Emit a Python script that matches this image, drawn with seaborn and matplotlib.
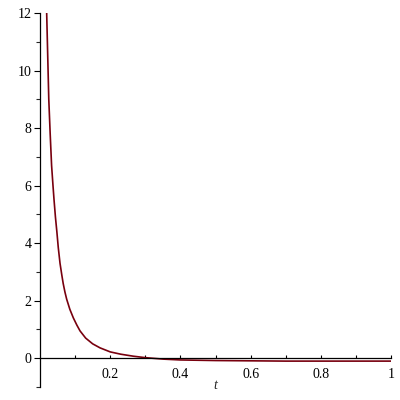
import pandas as pd
import matplotlib.pyplot as plt
import seaborn as sns
from matplotlib.ticker import MultipleLocator, FixedLocator

# values
t_vals = [0.016, 0.019, 0.022, 0.025, 0.029, 0.033, 0.037, 0.040, 0.044, 0.048,
          0.052, 0.057, 0.062, 0.066, 0.071, 0.076, 0.085, 0.095, 0.105, 0.114,
          0.130, 0.150, 0.171, 0.200, 0.230, 0.266, 0.300, 0.320, 0.350, 0.400,
          0.500, 0.600, 0.700, 0.800, 0.900, 1.000]
y_vals = [13.5, 12.0, 10.5, 9.0, 7.8, 6.7, 6.0, 5.5, 4.9, 4.4,
          3.85, 3.3, 2.9, 2.6, 2.3, 2.05, 1.7, 1.4, 1.15, 0.95,
          0.7, 0.5, 0.36, 0.22, 0.14, 0.07, 0.02, 0.0, -0.03, -0.06,
          -0.08, -0.09, -0.1, -0.1, -0.1, -0.1]
x_ticks = [0.2, 0.4, 0.6, 0.8, 1.0]
x_tick_labels = ["0.2", "0.4", "0.6", "0.8", "1"]
y_ticks = [0, 2, 4, 6, 8, 10, 12]

df = pd.DataFrame({"t": t_vals, "y": y_vals})

sns.set_style("white")
plt.rcParams["font.family"] = ["Liberation Serif", "DejaVu Serif"]

fig = plt.figure(figsize=(4, 4), dpi=100)
ax = fig.add_axes([0.1, 0.0325, 0.878, 0.935])

sns.lineplot(data=df, x="t", y="y", color="#78000E", linewidth=1.2, ax=ax)

ax.set_xlim(0, 1)
ax.set_ylim(-1, 12)

# spines through the origin, like the original plot
ax.spines["top"].set_visible(False)
ax.spines["right"].set_visible(False)
ax.spines["bottom"].set_position(("data", 0))
ax.spines["left"].set_position(("data", 0))
for s in ["bottom", "left"]:
    ax.spines[s].set_color("black")
    ax.spines[s].set_linewidth(0.9)

ax.set_xticks(x_ticks)
ax.set_xticklabels(x_tick_labels)
ax.xaxis.set_minor_locator(FixedLocator([0.1, 0.3, 0.5, 0.7, 0.9]))
ax.set_yticks(y_ticks)
ax.yaxis.set_minor_locator(MultipleLocator(1))

ax.tick_params(axis="x", which="both", direction="in", length=2.5, width=0.8,
               labelsize=10, pad=7, colors="black", bottom=True)
ax.tick_params(axis="y", which="major", direction="out", length=4, width=0.8,
               labelsize=10, pad=2, colors="black", left=True)
ax.tick_params(axis="y", which="minor", direction="out", length=3, width=0.8,
               left=True)

ax.set_xlabel("")
ax.set_ylabel("")
fig.text(0.5375, 0.036, "t", fontsize=10, style="italic", ha="center", va="center")

plt.savefig("out.png", dpi=100)
